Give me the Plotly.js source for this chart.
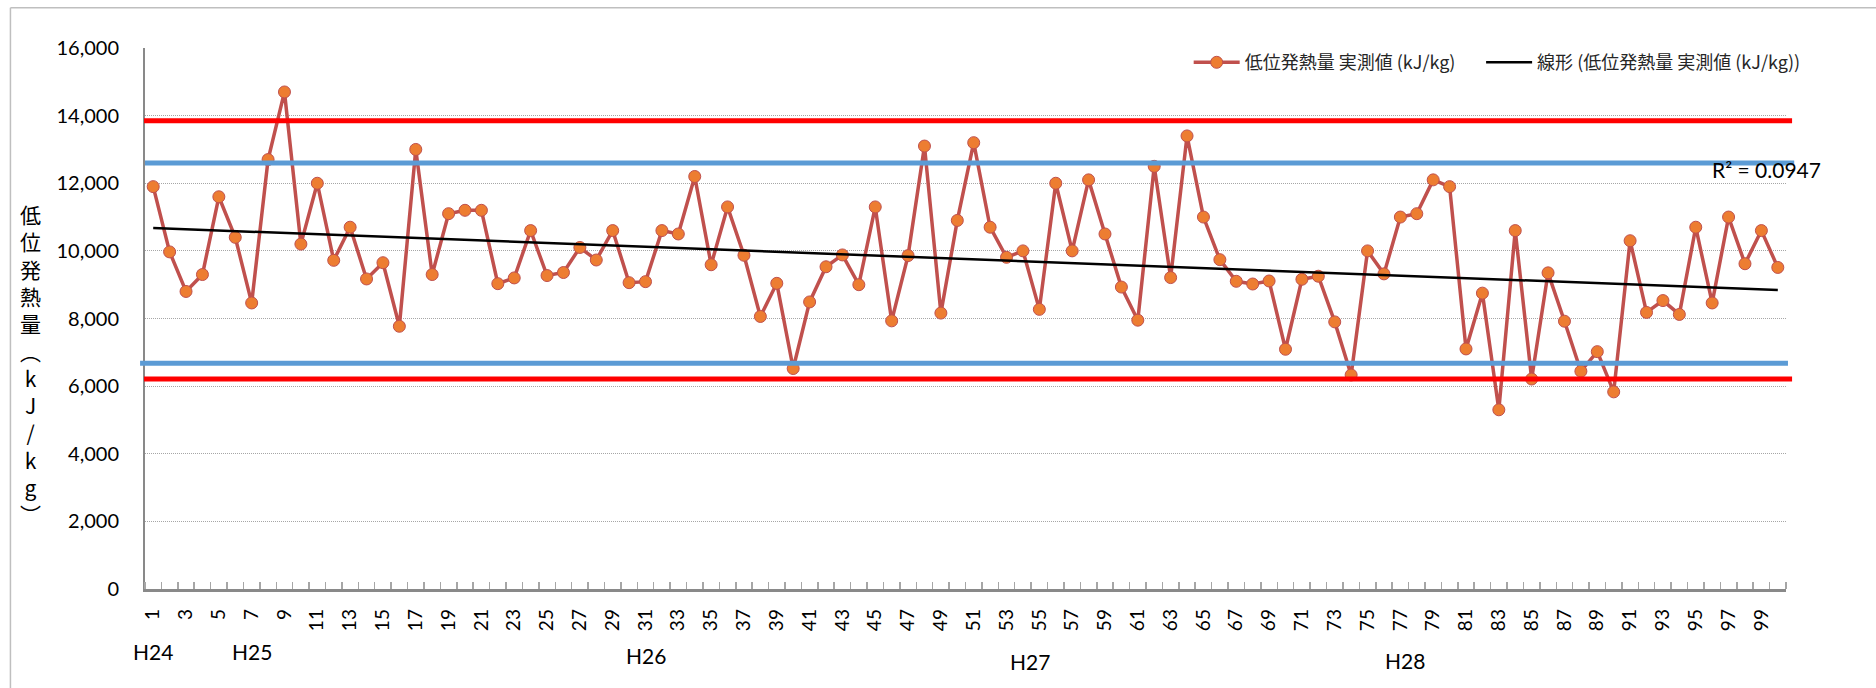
<!DOCTYPE html>
<html>
<head>
<meta charset="utf-8">
<script src="https://cdn.plot.ly/plotly-3.0.1.min.js"></script>
<style>
  html, body { margin: 0; padding: 0; background: #ffffff; }
  #chart { width: 1876px; height: 688px; }
</style>
</head>
<body>
<div id="chart"></div>
<script>
// ---- data ----
const categories = [
  1, 2, 3, 4, 5, 6, 7, 8, 9, 10,
  11, 12, 13, 14, 15, 16, 17, 18, 19, 20,
  21, 22, 23, 24, 25, 26, 27, 28, 29, 30,
  31, 32, 33, 34, 35, 36, 37, 38, 39, 40,
  41, 42, 43, 44, 45, 46, 47, 48, 49, 50,
  51, 52, 53, 54, 55, 56, 57, 58, 59, 60,
  61, 62, 63, 64, 65, 66, 67, 68, 69, 70,
  71, 72, 73, 74, 75, 76, 77, 78, 79, 80,
  81, 82, 83, 84, 85, 86, 87, 88, 89, 90,
  91, 92, 93, 94, 95, 96, 97, 98, 99, 100
];
const measured = [
  11900, 9970, 8800, 9300, 11600, 10400, 8460, 12700, 14700, 10200,
  12000, 9720, 10700, 9170, 9650, 7770, 13000, 9300, 11100, 11200,
  11200, 9030, 9200, 10600, 9270, 9360, 10100, 9730, 10600, 9060,
  9090, 10600, 10500, 12200, 9590, 11300, 9870, 8060, 9040, 6520,
  8490, 9530, 9880, 9000, 11300, 7930, 9860, 13100, 8160, 10900,
  13200, 10700, 9810, 10000, 8270, 12000, 10000, 12100, 10500, 8930,
  7950, 12500, 9210, 13400, 11000, 9740, 9100, 9020, 9110, 7090,
  9160, 9250, 7900, 6330, 10000, 9320, 11000, 11100, 12100, 11900,
  7100, 8750, 5300, 10600, 6210, 9350, 7920, 6440, 7020, 5830,
  10300, 8180, 8530, 8120, 10700, 8460, 11000, 9620, 10600, 9510
];
const upperRed = 13850;
const upperBlue = 12600;
const lowerBlue = 6680;
const lowerRed = 6210;
const periodLabels = ['H24', 'H25', 'H26', 'H27', 'H28'];
const periodAt = [1, 7, 31, 54.4, 77.3];
const seriesName = '低位発熱量 実測値 (kJ/kg)';
const trendName = '線形 (低位発熱量 実測値 (kJ/kg))';
const r2Text = 'R² = 0.0947';
const yTitleChars = ['低', '位', '発', '熱', '量', '︵', 'k', 'J', '/', 'k', 'g', '︶'];
const yTicks = [0, 2000, 4000, 6000, 8000, 10000, 12000, 14000, 16000];

// ---- linear trend (least squares, like Excel) ----
const n = categories.length;
let sx = 0, sy = 0, sxx = 0, sxy = 0;
for (let i = 0; i < n; i++) {
  sx += categories[i]; sy += measured[i];
  sxx += categories[i] * categories[i]; sxy += categories[i] * measured[i];
}
const slope = (n * sxy - sx * sy) / (n * sxx - sx * sx);
const intercept = (sy - slope * sx) / n;
const trendX = [categories[0], categories[n - 1]];
const trendY = trendX.map(x => intercept + slope * x);

const tickLabelsX = categories.filter((c, i) => i % 2 === 0);

const NUMFONT = 'Lato, "Liberation Sans", sans-serif';
const CJKFONT = '"Noto Sans CJK JP", "Noto Sans", sans-serif';

const traces = [
  {
    type: 'scatter', mode: 'lines+markers', name: seriesName,
    x: categories, y: measured,
    line: { color: '#C0504D', width: 3.5 },
    marker: { color: '#ED7D31', size: 12, line: { color: '#C0504D', width: 1 } },
    hoverinfo: 'x+y', legend: 'legend'
  },
  {
    type: 'scatter', mode: 'lines', name: trendName,
    x: trendX, y: trendY,
    line: { color: '#000000', width: 2.5 },
    hoverinfo: 'skip', legend: 'legend2'
  }
];

function hline(y, color, x0, x1) {
  return { type: 'line', xref: 'paper', yref: 'y', x0: x0, x1: x1, y0: y, y1: y,
           line: { color: color, width: 5 }, layer: 'above' };
}

const shapes = [
  hline(upperRed, '#FF0000', -0.0006, 1.0037),
  hline(upperBlue, '#5B9BD5', 0, 1.005),
  hline(lowerBlue, '#5B9BD5', -0.003, 1.0012),
  hline(lowerRed, '#FF0000', -0.0006, 1.0037),
  // outer chart-area frame (top and left edges visible)
  { type: 'line', xref: 'paper', yref: 'paper', x0: -0.082, x1: 1.07, y0: 1.0745, y1: 1.0745,
    line: { color: '#BFBFBF', width: 1.5 }, layer: 'below' },
  { type: 'line', xref: 'paper', yref: 'paper', x0: -0.082, x1: -0.082, y0: -0.2, y1: 1.0745,
    line: { color: '#BFBFBF', width: 1.5 }, layer: 'below' }
];

const periodY = [-0.116, -0.116, -0.123, -0.134, -0.132];
const annotations = periodLabels.map((t, i) => ({
  text: t, xref: 'x', yref: 'paper', x: periodAt[i], y: periodY[i],
  xanchor: 'center', yanchor: 'middle', showarrow: false,
  font: { family: NUMFONT, size: 21, color: '#000000' }
}));
annotations.push({
  text: yTitleChars.join('<br>'), xref: 'paper', yref: 'paper',
  x: -0.0695, y: 0.4165, xanchor: 'center', yanchor: 'middle', showarrow: false,
  align: 'center', font: { family: CJKFONT, size: 21, color: '#000000' }
});
annotations.push({
  text: r2Text, xref: 'paper', yref: 'paper', x: 0.9884, y: 0.775,
  xanchor: 'center', yanchor: 'middle', showarrow: false,
  font: { family: NUMFONT, size: 21, color: '#000000' }
});

const legendBase = {
  orientation: 'h', y: 0.973, xanchor: 'left', yanchor: 'middle',
  itemwidth: 46,
  font: { family: CJKFONT, size: 18, color: '#262626' },
  bgcolor: 'rgba(0,0,0,0)', borderwidth: 0
};

const layout = {
  width: 1876, height: 688,
  margin: { l: 145, r: 90, t: 48, b: 99, pad: 0 },
  paper_bgcolor: '#ffffff', plot_bgcolor: '#ffffff',
  showlegend: true,
  legend: Object.assign({}, legendBase, { x: 0.636 }),
  legend2: Object.assign({}, legendBase, { x: 0.8142 }),
  xaxis: {
    type: 'linear', range: [0.5, 100.5], fixedrange: true,
    tickmode: 'array', tickvals: tickLabelsX, ticktext: tickLabelsX.map(String),
    ticks: '', tickangle: -90, ticklabelstandoff: 10,
    tickfont: { family: NUMFONT, size: 19, color: '#000000' },
    showgrid: false, zeroline: false,
    showline: true, linecolor: '#898989', linewidth: 2.5,
    minor: { tick0: 0.5, dtick: 1, ticks: 'inside', ticklen: 7, tickcolor: '#A6A6A6', tickwidth: 1.5, showgrid: false }
  },
  yaxis: {
    range: [0, 16000], fixedrange: true,
    tickmode: 'array', tickvals: yTicks, ticktext: yTicks.map(v => v.toLocaleString('en-US')),
    ticks: '', ticklabelstandoff: 20,
    tickfont: { family: NUMFONT, size: 20, color: '#000000' },
    showgrid: true, gridcolor: '#A6A6A6', gridwidth: 1, griddash: '1px,1px',
    zeroline: false, showline: true, linecolor: '#898989', linewidth: 2
  },
  shapes: shapes,
  annotations: annotations
};

Plotly.newPlot('chart', traces, layout, { displayModeBar: false, staticPlot: true });
</script>
</body>
</html>
